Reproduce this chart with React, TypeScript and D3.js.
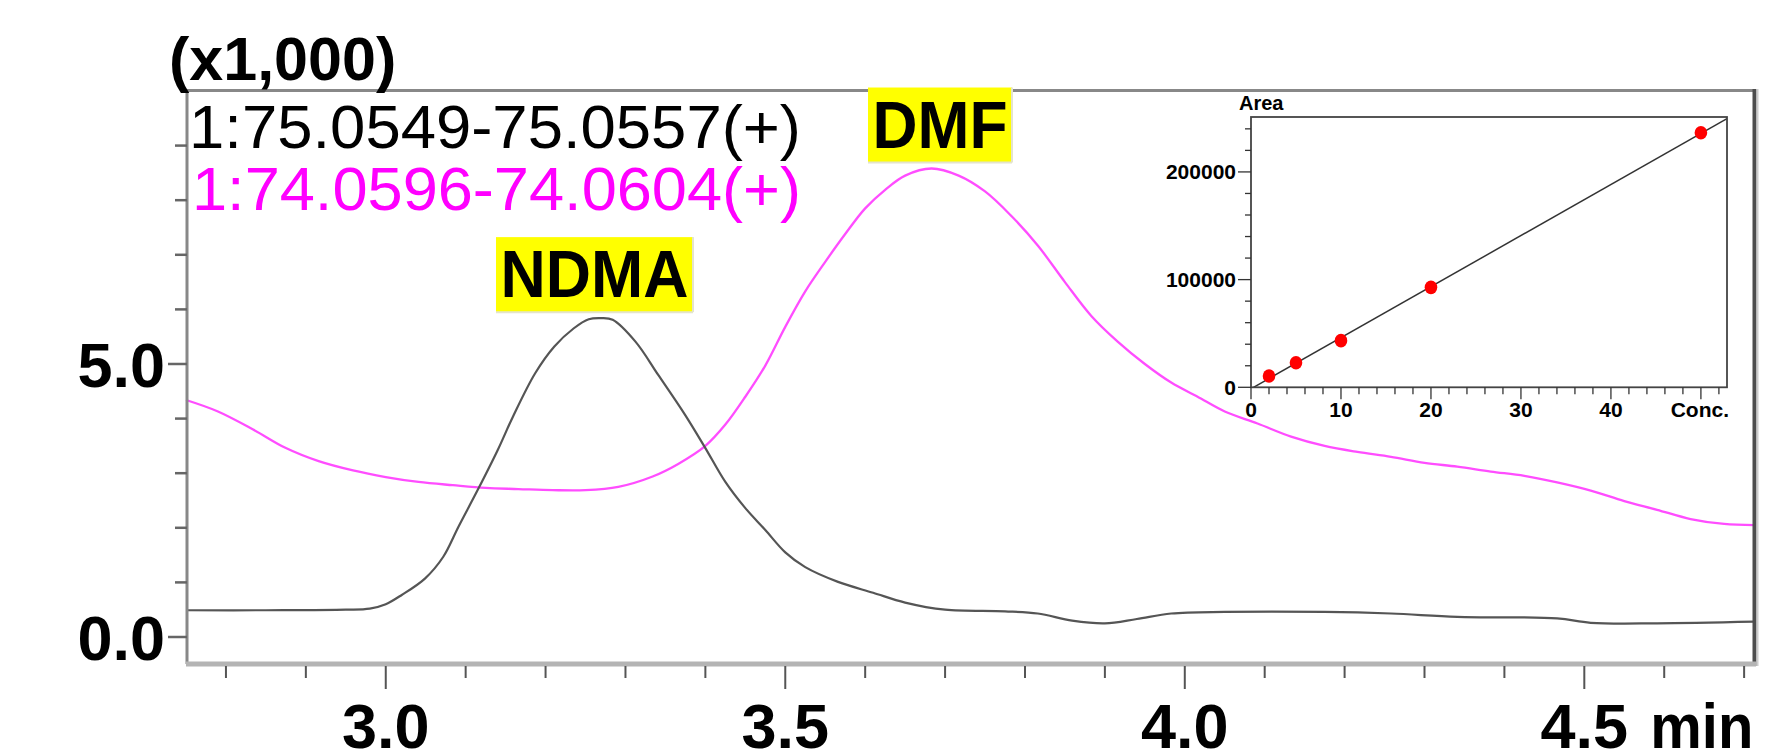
import React from "react";
import * as d3 from "d3";

const W = 1770;
const H = 755;

// NDMA trace (m/z 75.0549-75.0557), signal in x1,000
const ndmaTime = [2.75, 2.85, 2.95, 2.98, 3.0, 3.02, 3.049, 3.072, 3.091, 3.115, 3.14, 3.159, 3.187, 3.211, 3.235, 3.254, 3.27, 3.284, 3.3125, 3.341, 3.375, 3.4, 3.425, 3.45, 3.475, 3.5, 3.525, 3.566, 3.61, 3.65, 3.7, 3.775, 3.816, 3.859, 3.9, 3.94, 3.983, 4.05, 4.175, 4.258, 4.341, 4.466, 4.508, 4.591, 4.713];
const ndmaSignal = [0.49, 0.49, 0.5, 0.52, 0.6, 0.77, 1.07, 1.47, 2.02, 2.69, 3.42, 4.03, 4.83, 5.32, 5.65, 5.82, 5.84, 5.81, 5.41, 4.8, 4.06, 3.46, 2.84, 2.36, 1.96, 1.55, 1.28, 1.01, 0.81, 0.63, 0.5, 0.47, 0.43, 0.3, 0.25, 0.33, 0.43, 0.46, 0.46, 0.43, 0.37, 0.34, 0.26, 0.25, 0.28];

// DMF trace (m/z 74.0596-74.0604)
const dmfTime = [2.75, 2.79, 2.834, 2.875, 2.916, 2.959, 3.0, 3.041, 3.084, 3.125, 3.166, 3.209, 3.25, 3.291, 3.334, 3.366, 3.4, 3.425, 3.45, 3.475, 3.5, 3.525, 3.55, 3.575, 3.6, 3.625, 3.65, 3.683, 3.717, 3.75, 3.783, 3.816, 3.85, 3.883, 3.916, 3.95, 3.983, 4.016, 4.05, 4.091, 4.133, 4.175, 4.216, 4.258, 4.3, 4.341, 4.383, 4.425, 4.466, 4.508, 4.55, 4.591, 4.633, 4.675, 4.713];
const dmfSignal = [4.34, 4.13, 3.8, 3.46, 3.22, 3.05, 2.93, 2.84, 2.78, 2.73, 2.71, 2.69, 2.69, 2.75, 2.94, 3.17, 3.5, 3.89, 4.4, 4.97, 5.68, 6.33, 6.87, 7.38, 7.85, 8.19, 8.45, 8.58, 8.45, 8.16, 7.71, 7.17, 6.5, 5.88, 5.41, 5.0, 4.66, 4.4, 4.13, 3.91, 3.67, 3.5, 3.39, 3.3, 3.19, 3.12, 3.03, 2.95, 2.83, 2.68, 2.49, 2.33, 2.16, 2.07, 2.05];

const traceLabels = ["1:75.0549-75.0557(+)", "1:74.0596-74.0604(+)"];
const peakNames = ["NDMA", "DMF"];

const xMajor = [3.0, 3.5, 4.0, 4.5];
const xMajorLabels = ["3.0", "3.5", "4.0", "4.5"];
const yMajor = [0, 5];
const yMajorLabels = ["0.0", "5.0"];

// calibration inset
const calConc = [2, 5, 10, 20, 50];
const calArea = [10500, 22800, 43300, 92800, 236400];
const insetXLabels = [0, 10, 20, 30, 40];
const insetYLabels = [0, 100000, 200000];

const FONT = "'Liberation Sans', Arial, sans-serif";

export default function App() {
  const x = d3.scaleLinear().domain([2.75, 4.713]).range([186, 1754.5]);
  const y = d3.scaleLinear().domain([-0.4945, 10.018]).range([664, 90]);

  const line = d3
    .line<[number, number]>()
    .x((d) => x(d[0]))
    .y((d) => y(d[1]))
    .curve(d3.curveCatmullRom.alpha(0.5));

  const ndmaPts = ndmaTime.map((t, i) => [t, ndmaSignal[i]] as [number, number]);
  const dmfPts = dmfTime.map((t, i) => [t, dmfSignal[i]] as [number, number]);

  const xMinor = d3.range(28, 48).map((d) => d / 10);
  const yMinor = d3.range(0, 10);

  // apex of each peak for the yellow labels
  const ndmaApex = ndmaPts[d3.maxIndex(ndmaSignal)];
  const dmfApex = dmfPts[d3.maxIndex(dmfSignal)];
  const peaks = [
    { name: peakNames[0], apex: ndmaApex, dx: -7, tl: 188 },
    { name: peakNames[1], apex: dmfApex, dx: 8.5, tl: 135 },
  ];

  // inset scales
  const ix = d3.scaleLinear().domain([0, 52.9]).range([1251, 1727]);
  const iy = d3.scaleLinear().domain([0, 251000]).range([387.3, 117]);
  const mx = d3.mean(calConc)!;
  const my = d3.mean(calArea)!;
  const sxy = d3.sum(calConc, (c, i) => (c - mx) * (calArea[i] - my));
  const sxx = d3.sum(calConc, (c) => (c - mx) * (c - mx));
  const slope = sxy / sxx;
  const icpt = my - slope * mx;
  const fitX0 = Math.max(0, -icpt / slope);
  const fitX1 = 52.9;
  const iXTicks = d3.range(0, 53, 2);
  const iYTicks = d3.range(0, 250000, 20000);

  return (
    <svg
      width={W}
      height={H}
      style={{ position: "absolute", left: 0, top: 0, display: "block", background: "#fff" }}
      fontFamily={FONT}
    >
      <rect x={0} y={0} width={W} height={H} fill="#fff" />

      {/* traces */}
      <path d={line(dmfPts)!} fill="none" stroke="#ff4dff" strokeWidth={2.3} />
      <path d={line(ndmaPts)!} fill="none" stroke="#555" strokeWidth={2.2} />

      {/* frame */}
      <line x1={186} x2={1756} y1={y(10.018) + 0.5} y2={y(10.018) + 0.5} stroke="#888" strokeWidth={3} />
      <line x1={187} x2={187} y1={89} y2={664} stroke="#888" strokeWidth={3} />
      <line x1={1754.5} x2={1754.5} y1={89} y2={666} stroke="#4d4d4d" strokeWidth={4} />
      <line x1={1757.5} x2={1757.5} y1={89} y2={666} stroke="#ccc" strokeWidth={2} />
      <line x1={186} x2={1756} y1={664} y2={664} stroke="#b4b4b4" strokeWidth={5} />

      {/* x ticks */}
      {xMinor.map((t) => {
        const major = xMajor.some((m) => Math.abs(m - t) < 1e-6);
        return (
          <line key={t} x1={x(t)} x2={x(t)} y1={666} y2={major ? 689 : 678} stroke="#555" strokeWidth={2} />
        );
      })}
      {xMajor.map((t, i) => (
        <text key={t} x={x(t)} y={748} textAnchor="middle" fontSize={63} fontWeight="bold" fill="#000">
          {xMajorLabels[i]}
        </text>
      ))}
      <text x={x(4.5) + 66} y={748} fontSize={63} fontWeight="bold" fill="#000" textLength={103} lengthAdjust="spacingAndGlyphs">
        min
      </text>

      {/* y ticks */}
      {yMinor.map((v) => {
        const major = yMajor.includes(v);
        return (
          <line key={v} x1={major ? 168 : 175} x2={187} y1={y(v)} y2={y(v)} stroke="#666" strokeWidth={2.5} />
        );
      })}
      {yMajor.map((v, i) => (
        <text key={v} x={165} y={y(v) + 23} textAnchor="end" fontSize={63} fontWeight="bold" fill="#000">
          {yMajorLabels[i]}
        </text>
      ))}
      <text x={169} y={80} fontSize={61} fontWeight="bold" fill="#000">
        (x1,000)
      </text>

      {/* trace legend */}
      <text x={189} y={148} fontSize={62} fill="#000" textLength={612} lengthAdjust="spacingAndGlyphs">
        {traceLabels[0]}
      </text>
      <text x={192} y={210} fontSize={62} fill="#ff00ff" textLength={609} lengthAdjust="spacingAndGlyphs">
        {traceLabels[1]}
      </text>

      {/* peak labels */}
      {peaks.map((p) => {
        const cx = x(p.apex[0]) + p.dx;
        const bw = p.tl + 9;
        const bh = 75;
        const top = y(p.apex[1]) - 6 - bh;
        return (
          <g key={p.name}>
            <rect x={cx - bw / 2} y={top} width={bw} height={bh} fill="#ffff00" />
            <line x1={cx + bw / 2} x2={cx + bw / 2} y1={top} y2={top + bh} stroke="#e4e4cc" strokeWidth={2} />
            <line x1={cx - bw / 2} x2={cx + bw / 2} y1={top + bh} y2={top + bh} stroke="#e4e4cc" strokeWidth={2} />
            <text
              x={cx - p.tl / 2}
              y={top + 60}
              fontSize={66}
              fontWeight="bold"
              fill="#000"
              textLength={p.tl}
              lengthAdjust="spacingAndGlyphs"
            >
              {p.name}
            </text>
          </g>
        );
      })}

      {/* calibration inset */}
      <rect x={ix(0)} y={iy(251000)} width={ix(52.9) - ix(0)} height={iy(0) - iy(251000)} fill="#fff" />
      <line x1={ix(fitX0)} y1={iy(slope * fitX0 + icpt)} x2={ix(fitX1)} y2={iy(slope * fitX1 + icpt)} stroke="#333" strokeWidth={1.5} />
      {calConc.map((c, i) => (
        <ellipse key={c} cx={ix(c)} cy={iy(calArea[i])} rx={6.3} ry={6.8} fill="#ff0000" />
      ))}
      <rect
        x={ix(0)}
        y={iy(251000)}
        width={ix(52.9) - ix(0)}
        height={iy(0) - iy(251000)}
        fill="none"
        stroke="#444"
        strokeWidth={1.8}
      />
      {iXTicks.map((c) => (
        <line key={c} x1={ix(c)} x2={ix(c)} y1={iy(0)} y2={iy(0) + (c % 10 === 0 ? 12 : 7)} stroke="#333" strokeWidth={1.3} />
      ))}
      {insetXLabels.map((c) => (
        <text key={c} x={ix(c)} y={417} textAnchor="middle" fontSize={21} fontWeight="bold" fill="#000">
          {c}
        </text>
      ))}
      <text x={1729} y={417} textAnchor="end" fontSize={21} fontWeight="bold" fill="#000">
        Conc.
      </text>
      {iYTicks.map((a) => (
        <line key={a} x1={ix(0) - (a % 100000 === 0 ? 13 : 6)} x2={ix(0)} y1={iy(a)} y2={iy(a)} stroke="#333" strokeWidth={1.3} />
      ))}
      {insetYLabels.map((a) => (
        <text key={a} x={1236} y={iy(a) + 7.5} textAnchor="end" fontSize={21} fontWeight="bold" fill="#000">
          {a}
        </text>
      ))}
      <text x={1239} y={110} fontSize={20} fontWeight="bold" fill="#000">
        Area
      </text>
    </svg>
  );
}
